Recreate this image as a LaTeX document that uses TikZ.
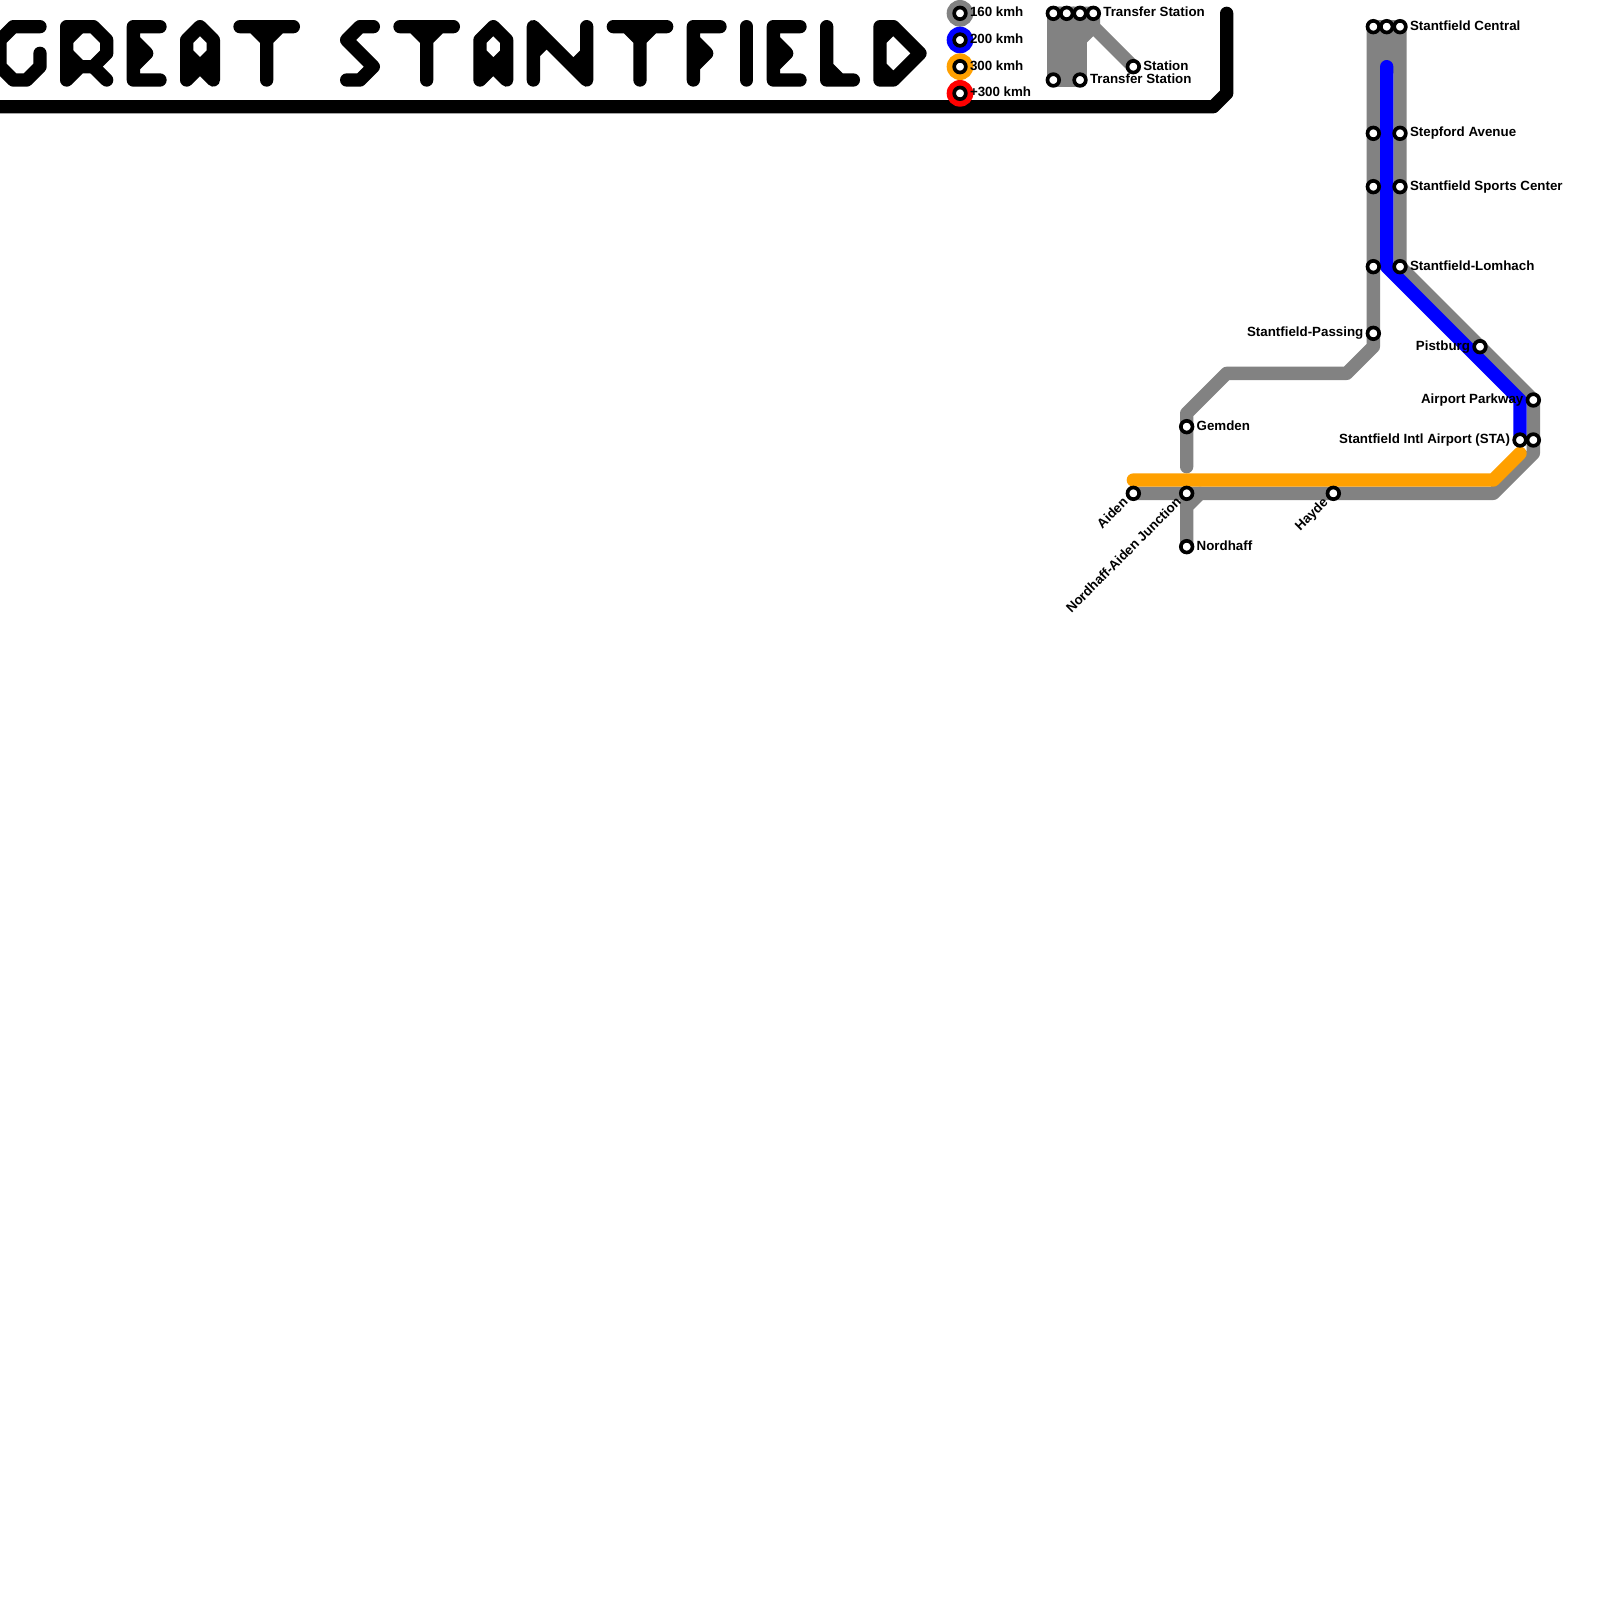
\documentclass[tikz,border=0pt]{standalone}
\usepackage{fontspec}
\setmainfont{Liberation Sans}
\definecolor{railgrey}{RGB}{130,130,130}
\definecolor{railblue}{RGB}{0,0,255}
\definecolor{railorange}{RGB}{255,160,0}
\definecolor{railred}{RGB}{255,0,0}
\tikzset{
  railbase/.style={line width=10pt,line cap=round,line join=round},
  ink/.style={railbase,draw=black},
  greyline/.style={railbase,draw=railgrey},
  blueline/.style={railbase,draw=railblue},
  orangeline/.style={railbase,draw=railorange},
  stn/.style={circle,draw=black,fill=white,line width=2.75pt,minimum size=8.75pt,inner sep=0pt,outer sep=0pt},
  txt/.style={inner sep=0pt,outer sep=0pt,font=\fontsize{10}{12}\selectfont\bfseries,text=black},
  lblR/.style={txt,anchor=base west},
  lblL/.style={txt,anchor=base east},
  lblD/.style={txt,anchor=base east,rotate=45},
  disc/.style={circle,minimum size=20pt,inner sep=0pt,outer sep=0pt}
}
\begin{document}
\begin{tikzpicture}[x=10pt,y=-10pt]
\clip (0,0) rectangle (120,120);
\fill[white] (0,0) rectangle (120,120);

% title lettering
% G
\draw[ink] (3,2)--(1,2)--(0,3)--(0,5)--(1,6)--(2,6)--(3,5)--(3,4);
% R
\draw[ink] (5,6)--(5,2)--(7,2)--(8,3)--(8,4)--(7,5)--(6,5)--(5,6);
\draw[ink] (7,5)--(8,6) (5,3)--(6,2) (5,4)--(6,5);
% E
\draw[ink] (12,2)--(10,2)--(10,6)--(12,6) (10,3)--(11,4)--(10,5) (10,4)--(11,4);
% A
\draw[ink] (14,6)--(14,3)--(15,2)--(16,3)--(16,6)--(15,5)--(14,6) (14,4)--(15,5)--(16,4);
% T
\draw[ink] (18,2)--(22,2) (20,2)--(20,6) (19,2)--(20,3)--(21,2);
% S
\draw[ink] (28,2)--(27,2)--(26,3)--(28,5)--(27,6)--(26,6);
% T
\draw[ink] (30,2)--(34,2) (32,2)--(32,6) (31,2)--(32,3)--(33,2);
% A
\draw[ink] (36,6)--(36,3)--(37,2)--(38,3)--(38,6)--(37,5)--(36,6) (36,4)--(37,5)--(38,4);
% N
\draw[ink] (40,6)--(40,2)--(44,6)--(44,2) (40,4)--(41,3) (43,5)--(44,4);
% T
\draw[ink] (46,2)--(50,2) (48,2)--(48,6) (47,2)--(48,3)--(49,2);
% F
\draw[ink] (52,6)--(52,2)--(54,2) (52,3)--(53,4)--(52,5) (52,4)--(53,4);
% I
\draw[ink] (56,2)--(56,6);
% E
\draw[ink] (60,2)--(58,2)--(58,6)--(60,6) (58,3)--(59,4)--(58,5) (58,4)--(59,4);
% L
\draw[ink] (62,2)--(62,6)--(64,6) (62,5)--(63,6);
% D
\draw[ink] (66,6)--(66,2)--(67,2)--(69,4)--(67,6)--(66,6) (66,3)--(67,2) (66,5)--(67,6);

% frame bar
\coordinate (barW) at (-2,8);
\coordinate (barA) at (91,8);
\coordinate (barB) at (92,7);
\coordinate (barE) at (92,1);
\draw[ink] (barW)--(barA)--(barB)--(barE);

% legend discs
\node[disc,fill=railgrey] (legA) at (72,1) {};
\node[disc,fill=railblue] (legB) at (72,3) {};
\node[disc,fill=railorange] (legC) at (72,5) {};
\node[disc,fill=railred] (legD) at (72,7) {};

% positions
\coordinate (kA) at (79,1); \coordinate (kB) at (80,1); \coordinate (kC) at (81,1); \coordinate (kD) at (82,1);
\coordinate (kE) at (79,6); \coordinate (kF) at (81,6); \coordinate (kG) at (85,5);
\coordinate (kH) at (80,6); \coordinate (kI) at (82,2); \coordinate (kJ) at (81,3);
\coordinate (cenL) at (103,2); \coordinate (cenM) at (104,2); \coordinate (cenR) at (105,2);
\coordinate (stepL) at (103,10); \coordinate (stepR) at (105,10);
\coordinate (sportL) at (103,14); \coordinate (sportR) at (105,14);
\coordinate (lomL) at (103,20); \coordinate (lomR) at (105,20);
\coordinate (pass) at (103,25); \coordinate (pist) at (111,26);
\coordinate (park) at (115,30); \coordinate (intlB) at (114,33); \coordinate (intlG) at (115,33);
\coordinate (hayde) at (100,37); \coordinate (aiden) at (85,37); \coordinate (junc) at (89,37);
\coordinate (nord) at (89,41); \coordinate (gem) at (89,32);
\coordinate (bA) at (103,26); \coordinate (bB) at (101,28); \coordinate (bC) at (92,28);
\coordinate (bD) at (89,31); \coordinate (bE) at (89,35);
\coordinate (bF) at (115,34); \coordinate (bG) at (112,37);
\coordinate (bH) at (89,38); \coordinate (bI) at (90,37);
\coordinate (bJ) at (104,5); \coordinate (bK) at (114,30);
\coordinate (oA) at (85,36); \coordinate (oB) at (112,36); \coordinate (oC) at (114,34);

% grey lines
\draw[greyline] (kA)--(kE) (kB)--(kH) (kC)--(kF) (kE)--(kF);
\draw[greyline] (79.5,1)--(79.5,6) (80.5,1)--(80.5,6);
\draw[greyline] (kA)--(kD)--(kI)--(kG) (kJ)--(kI);
\draw[greyline] (cenL)--(stepL)--(sportL)--(lomL)--(pass)--(bA)--(bB)--(bC)--(bD)--(gem)--(bE);
\draw[greyline] (cenM)--(bJ) (cenL)--(cenR);
\draw[greyline] (103.5,2)--(103.5,5) (104.5,2)--(104.5,5);
\draw[greyline] (cenR)--(stepR)--(sportR)--(lomR)--(pist)--(park)--(intlG)--(bF)--(bG)--(hayde)--(junc)--(aiden);
\draw[greyline] (junc)--(nord) (bH)--(bI);

% orange and blue lines
\draw[orangeline] (oA)--(oB)--(oC);
\draw[blueline] (bJ)--(104,20)--(bK)--(intlB);

% stations
\foreach \nm/\at in {sA/legA,sB/legB,sC/legC,sD/legD,
  sE/kA,sF/kB,sG/kC,sH/kD,sI/kE,sJ/kF,sK/kG,
  sL/cenL,sM/cenM,sN/cenR,sO/stepL,sP/stepR,sQ/sportL,sR/sportR,sS/lomL,sT/lomR,
  sU/pass,sV/pist,sW/park,sX/intlB,sY/intlG,sZ/hayde,sAa/aiden,sAb/junc,sAc/nord,sAd/gem}
  {\node[stn] (\nm) at (\at) {};}

% labels
\node[lblR] (tA) at (72.75,1.25) {160 kmh};
\node[lblR] (tB) at (72.75,3.25) {200 kmh};
\node[lblR] (tC) at (72.75,5.25) {300 kmh};
\node[lblR] (tD) at (72.75,7.25) {+300 kmh};
\node[lblR] (tE) at (82.75,1.25) {Transfer Station};
\node[lblR] (tF) at (85.75,5.25) {Station};
\node[lblR] (tG) at (81.75,6.25) {Transfer Station};
\node[lblR] (tH) at (105.75,2.25) {Stantfield Central};
\node[lblR] (tI) at (105.75,10.25) {Stepford Avenue};
\node[lblR] (tJ) at (105.75,14.25) {Stantfield Sports Center};
\node[lblR] (tK) at (105.75,20.25) {Stantfield-Lomhach};
\node[lblL] (tL) at (102.25,25.25) {Stantfield-Passing};
\node[lblL] (tM) at (110.25,26.25) {Pistburg};
\node[lblL] (tN) at (114.25,30.25) {Airport Parkway};
\node[lblL] (tO) at (113.25,33.25) {Stantfield Intl Airport (STA)};
\node[lblR] (tP) at (89.75,32.25) {Gemden};
\node[lblR] (tQ) at (89.75,41.25) {Nordhaff};
\node[lblD] (tR) at (84.65,37.74) {Aiden};
\node[lblD] (tS) at (88.65,37.74) {Nordhaff-Aiden Junction};
\node[lblD] (tT) at (99.65,37.74) {Hayde};
\end{tikzpicture}
\end{document}
